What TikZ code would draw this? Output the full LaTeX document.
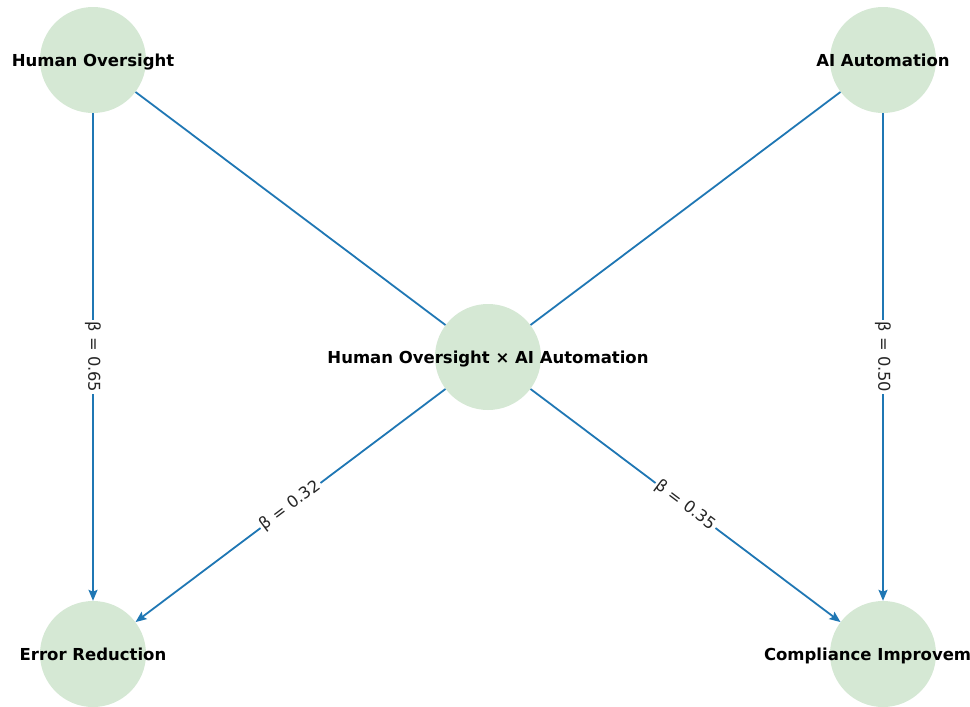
\documentclass[tikz,border=0pt]{standalone}
\usepackage{fontspec}
\setmainfont{DejaVu Sans}
\usetikzlibrary{arrows.meta}
\definecolor{nodegreen}{HTML}{D5E8D4}
\definecolor{edgeblue}{HTML}{1F77B4}
\tikzset{
  vert/.style={circle, fill=nodegreen, draw=none, minimum size=106pt, inner sep=0pt},
  nlab/.style={font=\fontsize{16.5}{18}\selectfont\bfseries, text=black, inner sep=0pt, text height=12pt, text depth=0pt},
  conn/.style={draw=edgeblue, line width=1.8pt},
  arr/.style={conn, -{Stealth[length=11pt, width=9pt, inset=2pt]}},
  elab/.style={fill=white, inner sep=2pt, font=\fontsize{16.3}{18}\selectfont, text=black!85}
}
\begin{document}
\begin{tikzpicture}[x=1pt, y=-1pt]
\useasboundingbox (0,0) rectangle (970,707);
\clip (0,0) rectangle (970,707);
\fill[white] (0,0) rectangle (970,707);
\node[vert] (ho) at (93,60) {};
\node[vert] (ai) at (883,60) {};
\node[vert] (ix) at (488,357) {};
\node[vert] (er) at (93,654) {};
\node[vert] (ci) at (883,654) {};
\draw[conn] (ho) -- (ix);
\draw[conn] (ai) -- (ix);
\draw[arr] (ho) -- node[elab, rotate=-90] {β = 0.65} (er);
\draw[arr] (ai) -- node[elab, rotate=-90] {β = 0.50} (ci);
\draw[arr] (ix) -- node[elab, rotate=36.94] {β = 0.32} (er);
\draw[arr] (ix) -- node[elab, rotate=-36.94] {β = 0.35} (ci);
\node[nlab] (tho) at (ho.center) {Human Oversight};
\node[nlab] (tai) at (ai.center) {AI Automation};
\node[nlab] (tix) at (ix.center) {Human Oversight × AI Automation};
\node[nlab] (ter) at (er.center) {Error Reduction};
\node[nlab] (tci) at (ci.center) {Compliance Improvement};
\end{tikzpicture}
\end{document}
